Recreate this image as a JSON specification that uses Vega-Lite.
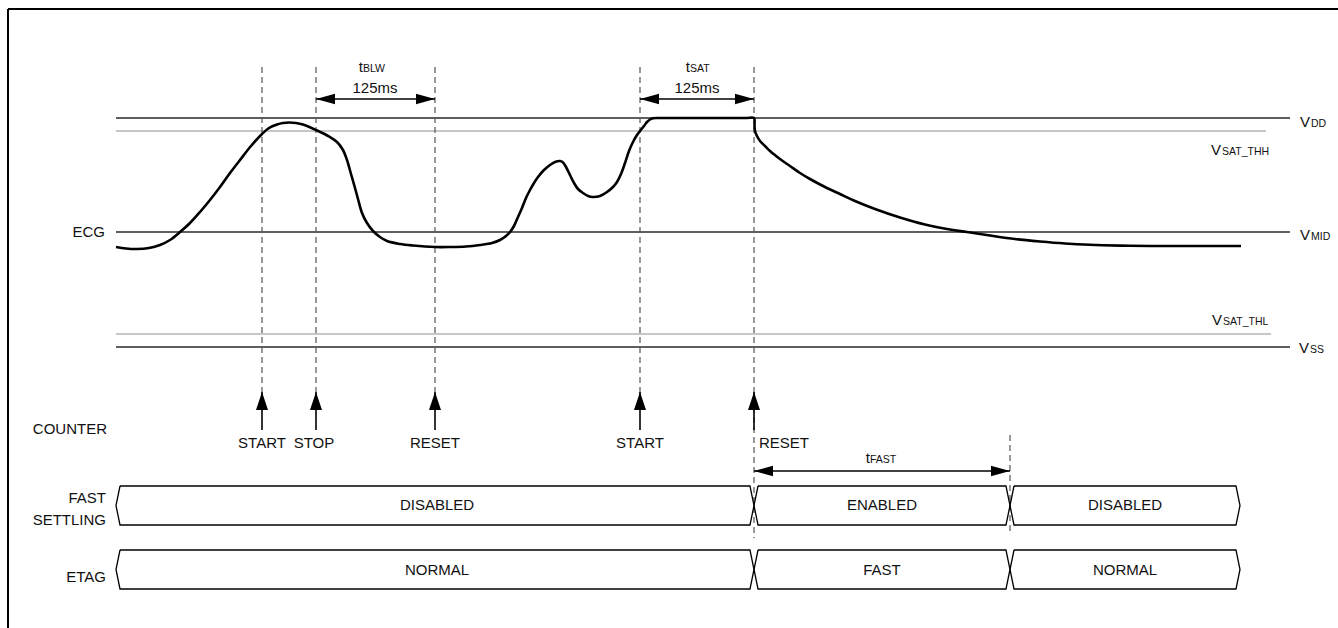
{
  "$schema": "https://vega.github.io/schema/vega-lite/v6.json",
  "width": 1338,
  "height": 628,
  "padding": 0,
  "autosize": {"type": "none"},
  "background": "white",
  "config": {
    "view": {"stroke": null},
    "font": "Liberation Sans, Arial, sans-serif",
    "text": {"font": "Liberation Sans, Arial, sans-serif", "color": "#111"}
  },
  "datasets": {
    "frame": [
      {"t": -108, "v": 338, "t2": -108, "v2": -300},
      {"t": -108, "v": 338, "t2": 1240, "v2": 338}
    ],
    "rails": [
      {"name": "VDD", "t": 0, "t2": 1174, "v": 229},
      {"name": "VMID", "t": 0, "t2": 1174, "v": 115},
      {"name": "VSS", "t": 0, "t2": 1174, "v": 0}
    ],
    "thresholds": [
      {"name": "VSAT_THH", "t": 0, "t2": 1150, "v": 216},
      {"name": "VSAT_THL", "t": 0, "t2": 1155, "v": 13}
    ],
    "markers": [
      {"t": 146, "v": 280, "v2": -45},
      {"t": 200, "v": 280, "v2": -45},
      {"t": 319, "v": 280, "v2": -45},
      {"t": 524, "v": 280, "v2": -45},
      {"t": 638, "v": 280, "v2": -191},
      {"t": 894, "v": -88, "v2": -188}
    ],
    "ecg": [
      {"t": 0, "v": 100}, {"t": 10, "v": 98.5}, {"t": 21, "v": 98}, {"t": 33, "v": 99},
      {"t": 44, "v": 102}, {"t": 54, "v": 107}, {"t": 64, "v": 115}, {"t": 74, "v": 124},
      {"t": 84, "v": 135}, {"t": 94, "v": 147}, {"t": 104, "v": 160}, {"t": 114, "v": 174},
      {"t": 124, "v": 187}, {"t": 135, "v": 201}, {"t": 146, "v": 213}, {"t": 153, "v": 219},
      {"t": 161, "v": 222.5}, {"t": 167, "v": 224}, {"t": 173, "v": 224.5}, {"t": 180, "v": 224},
      {"t": 187, "v": 222.5}, {"t": 200, "v": 217}, {"t": 214, "v": 210}, {"t": 221, "v": 205},
      {"t": 227, "v": 197}, {"t": 231, "v": 187}, {"t": 235, "v": 173}, {"t": 239, "v": 159},
      {"t": 242, "v": 148}, {"t": 246, "v": 134}, {"t": 251, "v": 124}, {"t": 257, "v": 116},
      {"t": 264, "v": 110}, {"t": 271, "v": 106}, {"t": 284, "v": 103}, {"t": 297, "v": 101.5},
      {"t": 319, "v": 100}, {"t": 334, "v": 100}, {"t": 350, "v": 100.5}, {"t": 364, "v": 102},
      {"t": 376, "v": 104}, {"t": 384, "v": 107}, {"t": 390, "v": 111}, {"t": 394, "v": 115},
      {"t": 398, "v": 121}, {"t": 402, "v": 130}, {"t": 406, "v": 139}, {"t": 410, "v": 149},
      {"t": 414, "v": 157}, {"t": 418, "v": 164}, {"t": 422, "v": 170}, {"t": 428, "v": 177},
      {"t": 434, "v": 182}, {"t": 439, "v": 185}, {"t": 444, "v": 186}, {"t": 447, "v": 184.5},
      {"t": 450, "v": 180}, {"t": 454, "v": 172}, {"t": 458, "v": 164}, {"t": 462, "v": 158},
      {"t": 467, "v": 154}, {"t": 472, "v": 151}, {"t": 477, "v": 150}, {"t": 484, "v": 151},
      {"t": 491, "v": 155}, {"t": 497, "v": 160}, {"t": 501, "v": 165}, {"t": 505, "v": 173},
      {"t": 509, "v": 184}, {"t": 513, "v": 196}, {"t": 517, "v": 205}, {"t": 521, "v": 212},
      {"t": 524, "v": 216}, {"t": 528, "v": 221}, {"t": 531, "v": 225}, {"t": 534, "v": 227.5},
      {"t": 537, "v": 228.7}, {"t": 542, "v": 229}, {"t": 560, "v": 229}, {"t": 600, "v": 229},
      {"t": 630, "v": 229}, {"t": 638, "v": 229}, {"t": 638.5, "v": 222}, {"t": 639, "v": 216},
      {"t": 641, "v": 211}, {"t": 644, "v": 206}, {"t": 649, "v": 201}, {"t": 654, "v": 196},
      {"t": 664, "v": 188}, {"t": 674, "v": 181}, {"t": 684, "v": 174}, {"t": 694, "v": 168},
      {"t": 709, "v": 160}, {"t": 724, "v": 153}, {"t": 739, "v": 146}, {"t": 759, "v": 138},
      {"t": 784, "v": 129.5}, {"t": 809, "v": 122.5}, {"t": 834, "v": 117.5}, {"t": 851, "v": 115},
      {"t": 874, "v": 111.5}, {"t": 899, "v": 108}, {"t": 924, "v": 105.5}, {"t": 949, "v": 103.5},
      {"t": 974, "v": 102.2}, {"t": 1004, "v": 101.4}, {"t": 1034, "v": 101}, {"t": 1080, "v": 101},
      {"t": 1125, "v": 101}
    ],
    "counter": [
      {"event": "START", "t": 146, "v": -45, "v2": -83},
      {"event": "STOP", "t": 200, "v": -45, "v2": -83},
      {"event": "RESET", "t": 319, "v": -45, "v2": -83},
      {"event": "START", "t": 524, "v": -45, "v2": -83},
      {"event": "RESET", "t": 638, "v": -45, "v2": -83}
    ],
    "counterLabels": [
      {"text": "START", "t": 146, "v": -96},
      {"text": "STOP", "t": 198, "v": -96},
      {"text": "RESET", "t": 319, "v": -96},
      {"text": "START", "t": 524, "v": -96}
    ],
    "counterLabelsLeft": [
      {"text": "RESET", "t": 643, "v": -96}
    ],
    "spans": [
      {"name": "BLW", "t": 200, "t2": 319, "v": 248},
      {"name": "SAT", "t": 524, "t2": 638, "v": 248},
      {"name": "FAST", "t": 638, "t2": 894, "v": -124}
    ],
    "spanT": [
      {"text": "t", "t": 247, "v": 275},
      {"text": "t", "t": 574, "v": 275},
      {"text": "t", "t": 754, "v": -116}
    ],
    "spanSub": [
      {"text": "BLW", "t": 247, "v": 275},
      {"text": "SAT", "t": 574, "v": 275},
      {"text": "FAST", "t": 754, "v": -116}
    ],
    "durations": [
      {"text": "125ms", "t": 259, "v": 254},
      {"text": "125ms", "t": 581, "v": 254}
    ],
    "railV": [
      {"text": "V", "t": 1184, "v": 220},
      {"text": "V", "t": 1184, "v": 107},
      {"text": "V", "t": 1183, "v": -6},
      {"text": "V", "t": 1095, "v": 192},
      {"text": "V", "t": 1096, "v": 22}
    ],
    "railSub": [
      {"text": "DD", "t": 1195, "v": 220},
      {"text": "MID", "t": 1195, "v": 107},
      {"text": "SS", "t": 1194, "v": -6},
      {"text": "SAT_THH", "t": 1106, "v": 192},
      {"text": "SAT_THL", "t": 1107, "v": 22}
    ],
    "signals": [
      {"text": "ECG", "t": -11, "v": 115},
      {"text": "COUNTER", "t": -9, "v": -82},
      {"text": "FAST", "t": -10, "v": -151},
      {"text": "SETTLING", "t": -10, "v": -173},
      {"text": "ETAG", "t": -10, "v": -230}
    ],
    "busText": [
      {"text": "DISABLED", "t": 321, "v": -158},
      {"text": "ENABLED", "t": 766, "v": -158},
      {"text": "DISABLED", "t": 1009, "v": -158},
      {"text": "NORMAL", "t": 321, "v": -223},
      {"text": "FAST", "t": 766, "v": -223},
      {"text": "NORMAL", "t": 1009, "v": -223}
    ],
    "bus": [
      {"seg": "FS1", "i": 0, "t": 4, "v": -139}, {"seg": "FS1", "i": 1, "t": 634, "v": -139}, {"seg": "FS1", "i": 2, "t": 638, "v": -158.5}, {"seg": "FS1", "i": 3, "t": 634, "v": -178}, {"seg": "FS1", "i": 4, "t": 4, "v": -178}, {"seg": "FS1", "i": 5, "t": 0, "v": -158.5}, {"seg": "FS1", "i": 6, "t": 4, "v": -139},
      {"seg": "FS2", "i": 0, "t": 642, "v": -139}, {"seg": "FS2", "i": 1, "t": 890, "v": -139}, {"seg": "FS2", "i": 2, "t": 894, "v": -158.5}, {"seg": "FS2", "i": 3, "t": 890, "v": -178}, {"seg": "FS2", "i": 4, "t": 642, "v": -178}, {"seg": "FS2", "i": 5, "t": 638, "v": -158.5}, {"seg": "FS2", "i": 6, "t": 642, "v": -139},
      {"seg": "FS3", "i": 0, "t": 898, "v": -139}, {"seg": "FS3", "i": 1, "t": 1120, "v": -139}, {"seg": "FS3", "i": 2, "t": 1124, "v": -158.5}, {"seg": "FS3", "i": 3, "t": 1120, "v": -178}, {"seg": "FS3", "i": 4, "t": 898, "v": -178}, {"seg": "FS3", "i": 5, "t": 894, "v": -158.5}, {"seg": "FS3", "i": 6, "t": 898, "v": -139},
      {"seg": "ET1", "i": 0, "t": 4, "v": -203}, {"seg": "ET1", "i": 1, "t": 634, "v": -203}, {"seg": "ET1", "i": 2, "t": 638, "v": -222.5}, {"seg": "ET1", "i": 3, "t": 634, "v": -242}, {"seg": "ET1", "i": 4, "t": 4, "v": -242}, {"seg": "ET1", "i": 5, "t": 0, "v": -222.5}, {"seg": "ET1", "i": 6, "t": 4, "v": -203},
      {"seg": "ET2", "i": 0, "t": 642, "v": -203}, {"seg": "ET2", "i": 1, "t": 890, "v": -203}, {"seg": "ET2", "i": 2, "t": 894, "v": -222.5}, {"seg": "ET2", "i": 3, "t": 890, "v": -242}, {"seg": "ET2", "i": 4, "t": 642, "v": -242}, {"seg": "ET2", "i": 5, "t": 638, "v": -222.5}, {"seg": "ET2", "i": 6, "t": 642, "v": -203},
      {"seg": "ET3", "i": 0, "t": 898, "v": -203}, {"seg": "ET3", "i": 1, "t": 1120, "v": -203}, {"seg": "ET3", "i": 2, "t": 1124, "v": -222.5}, {"seg": "ET3", "i": 3, "t": 1120, "v": -242}, {"seg": "ET3", "i": 4, "t": 898, "v": -242}, {"seg": "ET3", "i": 5, "t": 894, "v": -222.5}, {"seg": "ET3", "i": 6, "t": 898, "v": -203}
    ]
  },
  "encoding": {
    "x": {"field": "t", "type": "quantitative", "axis": null, "scale": {"domain": [-116, 1222], "nice": false, "zero": false}},
    "y": {"field": "v", "type": "quantitative", "axis": null, "scale": {"domain": [-281, 347], "nice": false, "zero": false}}
  },
  "layer": [
    {
      "data": {"name": "frame"},
      "mark": {"type": "rule", "color": "#000", "strokeWidth": 2},
      "encoding": {"x2": {"field": "t2"}, "y2": {"field": "v2"}}
    },
    {
      "data": {"name": "thresholds"},
      "mark": {"type": "rule", "color": "#b4b4b4", "strokeWidth": 1.3},
      "encoding": {"x2": {"field": "t2"}}
    },
    {
      "data": {"name": "rails"},
      "mark": {"type": "rule", "color": "#2a2a2a", "strokeWidth": 1.3},
      "encoding": {"x2": {"field": "t2"}}
    },
    {
      "data": {"name": "markers"},
      "mark": {"type": "rule", "color": "#555", "strokeWidth": 1.2, "strokeDash": [6, 4]},
      "encoding": {"y2": {"field": "v2"}}
    },
    {
      "data": {"name": "ecg"},
      "mark": {"type": "line", "interpolate": "catmull-rom", "color": "#000", "strokeWidth": 2.6},
      "encoding": {}
    },
    {
      "data": {"name": "counter"},
      "mark": {"type": "rule", "color": "#000", "strokeWidth": 1.6},
      "encoding": {"y2": {"field": "v2"}}
    },
    {
      "data": {"name": "counter"},
      "mark": {"type": "point", "shape": "M0,0L0.667,2L-0.667,2Z", "size": 324, "filled": true, "color": "#000", "opacity": 1, "strokeWidth": 0}
    },
    {
      "data": {"name": "spans"},
      "mark": {"type": "rule", "color": "#000", "strokeWidth": 1.6},
      "encoding": {"x2": {"field": "t2"}}
    },
    {
      "data": {"name": "spans"},
      "mark": {"type": "point", "shape": "M0,0L2,-0.55L2,0.55Z", "size": 361, "filled": true, "color": "#000", "opacity": 1, "strokeWidth": 0}
    },
    {
      "data": {"name": "spans"},
      "mark": {"type": "point", "shape": "M0,0L-2,-0.55L-2,0.55Z", "size": 361, "filled": true, "color": "#000", "opacity": 1, "strokeWidth": 0},
      "encoding": {"x": {"field": "t2", "type": "quantitative"}}
    },
    {
      "data": {"name": "bus"},
      "mark": {"type": "line", "color": "#000", "strokeWidth": 1.3},
      "encoding": {"detail": {"field": "seg"}, "order": {"field": "i", "type": "quantitative"}}
    },
    {
      "data": {"name": "busText"},
      "mark": {"type": "text", "fontSize": 15, "align": "center", "baseline": "middle"},
      "encoding": {"text": {"field": "text"}}
    },
    {
      "data": {"name": "signals"},
      "mark": {"type": "text", "fontSize": 15, "align": "right", "baseline": "middle"},
      "encoding": {"text": {"field": "text"}}
    },
    {
      "data": {"name": "counterLabels"},
      "mark": {"type": "text", "fontSize": 15, "align": "center", "baseline": "middle"},
      "encoding": {"text": {"field": "text"}}
    },
    {
      "data": {"name": "counterLabelsLeft"},
      "mark": {"type": "text", "fontSize": 15, "align": "left", "baseline": "middle"},
      "encoding": {"text": {"field": "text"}}
    },
    {
      "data": {"name": "durations"},
      "mark": {"type": "text", "fontSize": 15, "align": "center", "baseline": "alphabetic"},
      "encoding": {"text": {"field": "text"}}
    },
    {
      "data": {"name": "spanT"},
      "mark": {"type": "text", "fontSize": 15, "align": "right", "baseline": "alphabetic"},
      "encoding": {"text": {"field": "text"}}
    },
    {
      "data": {"name": "spanSub"},
      "mark": {"type": "text", "fontSize": 10.5, "align": "left", "baseline": "alphabetic"},
      "encoding": {"text": {"field": "text"}}
    },
    {
      "data": {"name": "railV"},
      "mark": {"type": "text", "fontSize": 15, "align": "left", "baseline": "alphabetic"},
      "encoding": {"text": {"field": "text"}}
    },
    {
      "data": {"name": "railSub"},
      "mark": {"type": "text", "fontSize": 10.5, "align": "left", "baseline": "alphabetic"},
      "encoding": {"text": {"field": "text"}}
    }
  ]
}
